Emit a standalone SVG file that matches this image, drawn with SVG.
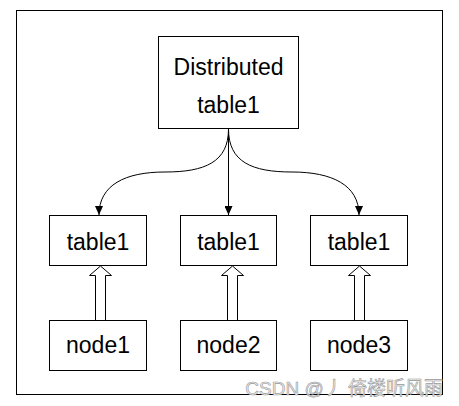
<svg xmlns="http://www.w3.org/2000/svg" width="459" height="406" viewBox="0 0 459 406">
<style>
.box{fill:#fff;stroke:#000;stroke-width:1}
.t{font-family:"Liberation Sans",Arial,sans-serif;font-size:23px;fill:#000;text-anchor:middle}
.edge{fill:none;stroke:#000;stroke-width:1}
.blk{fill:#fff;stroke:#000;stroke-width:1;stroke-linejoin:miter}
.wm{font-family:"Liberation Sans","Noto Sans CJK SC",sans-serif;font-size:19px;fill:#eee;stroke:#999;stroke-width:0.6;text-anchor:end}
</style>
<defs>
<marker id="ah" markerWidth="9" markerHeight="8" refX="9" refY="4" orient="auto" markerUnits="userSpaceOnUse">
<path d="M0,0 L9,4 L0,8 Z" fill="#000"/>
</marker>
</defs>
<rect width="459" height="406" fill="#fff"/>
<rect x="16.5" y="10.5" width="426" height="384" fill="none" stroke="#000"/>
<g id="connectors">
<path class="edge" d="M228.5,129 C228.5,162 205,172 165,172 C125,172 99,185 99,215" marker-end="url(#ah)"/>
<path class="edge" d="M228.5,129 L228.5,215" marker-end="url(#ah)"/>
<path class="edge" d="M228.5,129 C228.5,162 252,172 292,172 C332,172 359,185 359,215" marker-end="url(#ah)"/>
<path class="blk" d="M95.5,320 L95.5,275.5 L89.5,275.5 L100.5,266 L111.5,275.5 L105.5,275.5 L105.5,320"/>
<path class="blk" d="M227.5,320 L227.5,275.5 L221.5,275.5 L232.5,266 L243.5,275.5 L237.5,275.5 L237.5,320"/>
<path class="blk" d="M354.5,320 L354.5,275.5 L348.5,275.5 L359.5,266 L370.5,275.5 L364.5,275.5 L364.5,320"/>
</g>
<g id="dist">
<rect class="box" x="158.5" y="36.5" width="140" height="92"/>
<text class="t" x="228.5" y="75">Distributed</text>
<text class="t" x="228.5" y="113">table1</text>
</g>
<g id="table1a"><rect class="box" x="49.5" y="215.5" width="97" height="50"/><text class="t" x="98" y="250">table1</text></g>
<g id="table1b"><rect class="box" x="180.5" y="215.5" width="96" height="50"/><text class="t" x="228.5" y="250">table1</text></g>
<g id="table1c"><rect class="box" x="310.5" y="215.5" width="97" height="50"/><text class="t" x="359" y="250">table1</text></g>
<g id="node1"><rect class="box" x="49.5" y="320.5" width="97" height="50"/><text class="t" x="98" y="353">node1</text></g>
<g id="node2"><rect class="box" x="180.5" y="320.5" width="96" height="50"/><text class="t" x="228.5" y="353">node2</text></g>
<g id="node3"><rect class="box" x="310.5" y="320.5" width="97" height="50"/><text class="t" x="359" y="353">node3</text></g>
<text class="wm" x="443" y="395">CSDN @丿 倚楼听风雨</text>
</svg>
